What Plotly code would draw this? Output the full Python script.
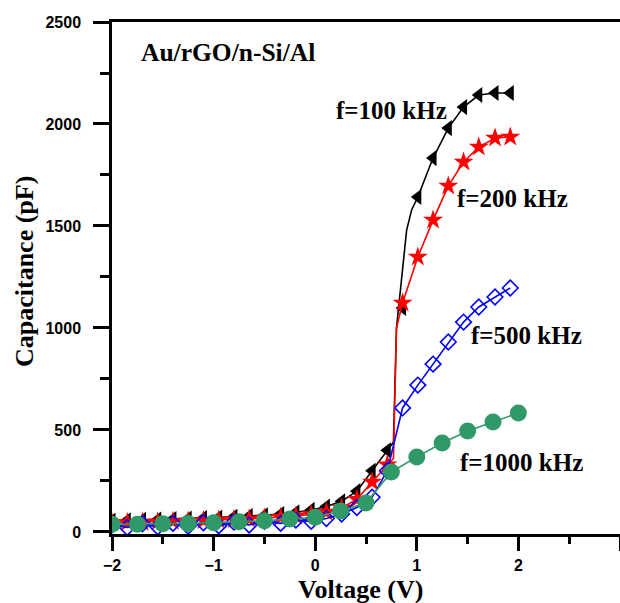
import plotly.graph_objects as go

# Voltage grid shared by 100/200/500 kHz measurements
voltage = [-2.00, -1.85, -1.70, -1.55, -1.40, -1.25, -1.10, -0.95, -0.80, -0.65,
           -0.50, -0.34, -0.19, -0.04, 0.11, 0.26, 0.41, 0.56, 0.71, 0.86,
           1.01, 1.16, 1.31, 1.46, 1.61, 1.77, 1.92]

cap_100k = [55, 57, 59, 61, 63, 66, 68, 71, 74, 78,
            82, 88, 96, 108, 125, 150, 200, 300, 400, 1098,
            1642, 1833, 1980, 2083, 2142, 2152, 2152]
cap_200k = [45, 47, 48, 50, 52, 54, 56, 58, 61, 64,
            68, 72, 78, 86, 98, 118, 160, 245, 330, 1122,
            1348, 1529, 1696, 1814, 1887, 1931, 1936]
cap_500k = [35, 22, 40, 25, 42, 28, 45, 30, 48, 34,
            52, 42, 58, 52, 66, 88, 120, 170, 300, 608,
            720, 823, 931, 1029, 1103, 1152, 1196]

# Smooth connecting curves (line only) for the steep rise
curve_v_100k = [-2.00, -1.85, -1.70, -1.55, -1.40, -1.25, -1.10, -0.95, -0.80, -0.65,
                -0.50, -0.34, -0.19, -0.04, 0.11, 0.26, 0.41, 0.56, 0.71, 0.77,
                0.80, 0.83, 0.86, 0.90, 0.95, 1.01, 1.16, 1.31, 1.46, 1.61, 1.77, 1.92]
curve_c_100k = [55, 57, 59, 61, 63, 66, 68, 71, 74, 78,
                82, 88, 96, 108, 125, 150, 200, 300, 400, 440,
                1000, 1150, 1280, 1480, 1580, 1642, 1833, 1980, 2083, 2142, 2152, 2152]
curve_v_200k = [-2.00, -1.85, -1.70, -1.55, -1.40, -1.25, -1.10, -0.95, -0.80, -0.65,
                -0.50, -0.34, -0.19, -0.04, 0.11, 0.26, 0.41, 0.56, 0.71, 0.77,
                0.80, 0.86, 1.01, 1.16, 1.31, 1.46, 1.61, 1.77, 1.92]
curve_c_200k = [45, 47, 48, 50, 52, 54, 56, 58, 61, 64,
                68, 72, 78, 86, 98, 118, 160, 245, 330, 360,
                1000, 1122, 1348, 1529, 1696, 1814, 1887, 1931, 1936]

# 1000 kHz measured on a 0.25 V grid
voltage_1m = [-2.00, -1.75, -1.50, -1.25, -1.00, -0.75, -0.50, -0.25, 0.00,
              0.25, 0.50, 0.75, 1.00, 1.25, 1.50, 1.75, 2.00]
cap_1000k = [38, 38, 40, 42, 45, 50, 55, 63, 72,
             103, 142, 294, 368, 436, 495, 539, 583]

labels = ["f=100 kHz", "f=200 kHz", "f=500 kHz", "f=1000 kHz"]
label_x = [391, 512, 526, 521]
label_y = [110, 198, 335, 462]
sample_title = "Au/rGO/n-Si/Al"
x_title = "Voltage (V)"
y_title = "Capacitance (pF)"

x_ticks = [-2, -1, 0, 1, 2, 3]
y_ticks = [0, 500, 1000, 1500, 2000, 2500]

GREEN = "#2f9a68"
W, H = 620, 603
L, R, T, B = 112, 0, 22, 69
pw, ph = W - L - R, H - T - B


def px(sx):
    return (sx - L) / pw


def py(sy):
    return 1 - (sy - T) / ph


fig = go.Figure()

fig.add_trace(go.Scatter(x=curve_v_100k, y=curve_c_100k, mode="lines",
                         line=dict(color="black", width=1.6), hoverinfo="skip"))
fig.add_trace(go.Scatter(x=voltage, y=cap_100k, mode="markers",
                         marker=dict(symbol="triangle-left", size=14, color="black")))

fig.add_trace(go.Scatter(x=curve_v_200k, y=curve_c_200k, mode="lines",
                         line=dict(color="red", width=1.6), hoverinfo="skip"))
fig.add_trace(go.Scatter(x=voltage, y=cap_200k, mode="markers",
                         marker=dict(symbol="star", size=15, color="red")))

fig.add_trace(go.Scatter(x=voltage, y=cap_500k, mode="lines+markers",
                         line=dict(color="blue", width=1.6),
                         marker=dict(symbol="diamond-open", size=12, color="blue",
                                     line=dict(width=1.6, color="blue"))))

fig.add_trace(go.Scatter(x=voltage_1m, y=cap_1000k, mode="lines+markers",
                         line=dict(color=GREEN, width=1.6),
                         marker=dict(symbol="circle", size=17, color=GREEN)))

serif = "Liberation Serif"


def text(t, sx, sy, size, angle=0):
    fig.add_annotation(x=px(sx), y=py(sy), xref="paper", yref="paper",
                       xanchor="center", yanchor="middle", text=t, showarrow=False,
                       textangle=angle,
                       font=dict(family=serif, size=size, color="black", weight="bold"))


for t, xp, yp in zip(labels, label_x, label_y):
    text(t, xp, yp, 25)
text(sample_title, 228, 52, 25.5)
text(x_title, 360, 589, 26)
text(y_title, 24, 272, 26, -90)

tickfont = dict(family="Liberation Sans", size=16, color="black", weight="bold")
fig.update_layout(
    width=W, height=H, margin=dict(l=L, r=R, t=T, b=B, autoexpand=False),
    paper_bgcolor="white", plot_bgcolor="white", showlegend=False,
    xaxis=dict(range=[-2.0, -2.0 + pw / 101.6], tickvals=x_ticks, showgrid=False,
               zeroline=False, automargin=False,
               showline=True, linecolor="black", linewidth=2.5, mirror=True,
               ticks="outside", ticklen=14, tickwidth=2.5, tickcolor="black",
               minor=dict(dtick=0.5, ticks="outside", ticklen=7, tickwidth=2.5, tickcolor="black"),
               tickfont=tickfont, ticklabelstandoff=1),
    yaxis=dict(range=[-10, 2500], tickvals=y_ticks, showgrid=False, zeroline=False,
               automargin=False,
               showline=True, linecolor="black", linewidth=2.5, mirror=False,
               ticks="outside", ticklen=16, tickwidth=2.5, tickcolor="black",
               minor=dict(dtick=250, ticks="outside", ticklen=9, tickwidth=2.5, tickcolor="black"),
               tickfont=tickfont, ticklabelstandoff=9),
)

fig.write_html("out.html", config={"displayModeBar": False},
               post_script="document.body.style.margin='0';document.body.style.overflow='hidden';")
